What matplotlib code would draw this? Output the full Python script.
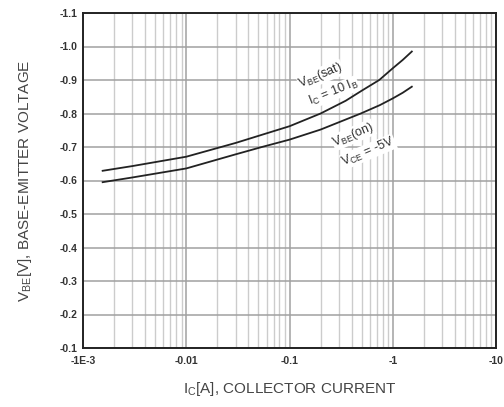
import numpy as np
import matplotlib.pyplot as plt
from matplotlib.ticker import FixedLocator, LogLocator, NullFormatter

plt.rcParams['font.family'] = ['Liberation Sans', 'DejaVu Sans']

# V_BE(sat), Ic = 10 Ib
ic_sat = [1.55e-3, 3e-3, 0.01, 0.03, 0.1, 0.2, 0.35, 0.5, 0.74, 1.0, 1.25, 1.53]
vbe_sat = [-0.629, -0.643, -0.671, -0.712, -0.762, -0.800, -0.838, -0.868, -0.900, -0.935, -0.960, -0.985]

# V_BE(on), Vce = -5V
ic_on = [1.55e-3, 3e-3, 0.01, 0.03, 0.054, 0.1, 0.2, 0.49, 0.75, 1.0, 1.25, 1.53]
vbe_on = [-0.595, -0.609, -0.636, -0.678, -0.700, -0.722, -0.752, -0.800, -0.825, -0.845, -0.862, -0.880]

xticks = [1e-3, 1e-2, 1e-1, 1, 10]
xtick_labels = ['-1E-3', '-0.01', '-0.1', '-1', '-10']
yticks = [-1.1, -1.0, -0.9, -0.8, -0.7, -0.6, -0.5, -0.4, -0.3, -0.2, -0.1]
ytick_labels = ['-1.1', '-1.0', '-0.9', '-0.8', '-0.7', '-0.6', '-0.5', '-0.4', '-0.3', '-0.2', '-0.1']

fig = plt.figure(figsize=(5.04, 4.07), dpi=100)
ax = fig.add_axes([83 / 504, 1 - 348 / 407, 413 / 504, 335 / 407])

ax.plot(ic_sat, vbe_sat, color='#222222', linewidth=1.3)
ax.plot(ic_on, vbe_on, color='#222222', linewidth=1.3)

ax.set_xscale('log')
ax.set_xlim(1e-3, 10)
ax.set_ylim(-0.1, -1.1)

ax.xaxis.set_major_locator(FixedLocator(xticks))
ax.set_xticklabels(xtick_labels)
ax.xaxis.set_minor_locator(LogLocator(base=10, subs=np.arange(2, 10), numticks=20))
ax.xaxis.set_minor_formatter(NullFormatter())
ax.set_yticks(yticks)
ax.set_yticklabels(ytick_labels)

ax.grid(True, which='major', color='#a0a0a0', linewidth=1.1)
ax.grid(True, which='minor', axis='x', color='#cccccc', linewidth=1.0)
ax.set_axisbelow(True)

ax.tick_params(which='both', length=0, labelsize=7.5)
ax.tick_params(axis='x', pad=6)
ax.tick_params(axis='y', pad=4)
for lbl in ax.get_xticklabels() + ax.get_yticklabels():
    lbl.set_fontweight('bold')
    lbl.set_color('#333333')

for s in ax.spines.values():
    s.set_linewidth(1.4)
    s.set_color('#222222')

ax.set_xlabel('I$_\\mathregular{C}$[A], COLLECTOR CURRENT', fontsize=11, color='#444444', labelpad=10)
ax.set_ylabel('V$_\\mathregular{BE}$[V], BASE-EMITTER VOLTAGE', fontsize=11, color='#444444', labelpad=18)

bbox = dict(facecolor='white', edgecolor='none', pad=0.3)
ax.text(0.20, -0.913, 'V$_\\mathregular{BE}$(sat)', fontsize=9, color='#333333',
        rotation=23, ha='center', va='center', bbox=bbox)
ax.text(0.265, -0.863, 'I$_\\mathregular{C}$ = 10 I$_\\mathregular{B}$', fontsize=9, color='#333333',
        rotation=22, ha='center', va='center', bbox=bbox)
ax.text(0.415, -0.736, 'V$_\\mathregular{BE}$(on)', fontsize=9, color='#333333',
        rotation=23, ha='center', va='center', bbox=bbox)
ax.text(0.58, -0.686, 'V$_\\mathregular{CE}$ = -5V', fontsize=9, color='#333333',
        rotation=23, ha='center', va='center', bbox=bbox)

fig.savefig('out.png', dpi=100)
